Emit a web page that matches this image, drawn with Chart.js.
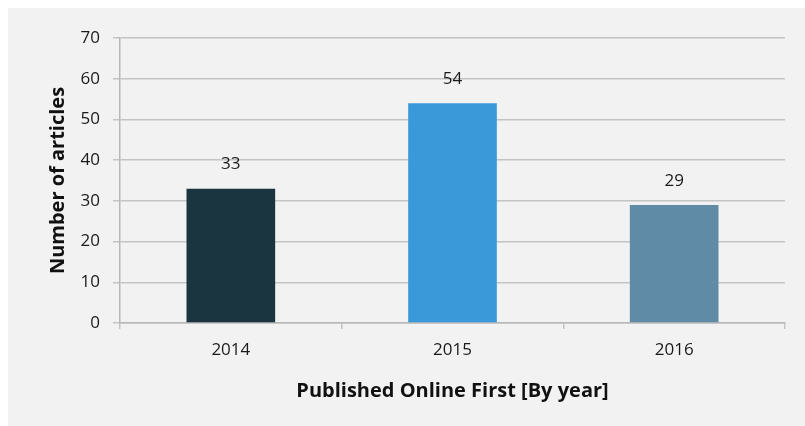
<!DOCTYPE html>
<html>
<head>
<meta charset="utf-8">
<script src="https://cdn.jsdelivr.net/npm/chart.js@4/dist/chart.umd.min.js"></script>
<style>
  html, body { margin: 0; padding: 0; background: #ffffff; }
  #wrap { width: 805px; height: 426px; position: relative; }
</style>
</head>
<body>
<div id="wrap"><canvas id="articles"></canvas></div>
<script>
// articles published online first, per year
const years = ['2014', '2015', '2016'];
const articleCounts = [33, 54, 29];
const barColors = ['#1b3540', '#3a9ad9', '#608ba7'];
const yTicks = [0, 10, 20, 30, 40, 50, 60, 70];

const FONT = '"Open Sans", "DejaVu Sans", sans-serif';

// light grey panel behind the chart, leaving a thin white strip top and left
const panelBackground = {
    id: 'panelBackground',
    beforeDraw(chart) {
        const ctx = chart.ctx;
        ctx.save();
        ctx.fillStyle = '#ffffff';
        ctx.fillRect(0, 0, chart.width, chart.height);
        ctx.fillStyle = '#f2f2f2';
        ctx.fillRect(8, 8, chart.width - 8, chart.height - 8);
        ctx.restore();
    }
};

// value written above each bar
const barValues = {
    id: 'barValues',
    afterDatasetsDraw(chart) {
        const ctx = chart.ctx;
        const meta = chart.getDatasetMeta(0);
        ctx.save();
        ctx.font = '17px ' + FONT;
        ctx.fillStyle = '#1a1a1a';
        ctx.textAlign = 'center';
        ctx.textBaseline = 'middle';
        meta.data.forEach((bar, i) => {
            ctx.fillText(String(articleCounts[i]), bar.x, bar.y - 24);
        });
        ctx.restore();
    }
};

new Chart(document.getElementById('articles'), {
    type: 'bar',
    data: {
        labels: years,
        datasets: [{
            data: articleCounts,
            backgroundColor: barColors,
            borderWidth: 0,
            barPercentage: 0.4,
            categoryPercentage: 1.0
        }]
    },
    plugins: [panelBackground, barValues],
    options: {
        responsive: true,
        maintainAspectRatio: false,
        animation: false,
        layout: { padding: { left: 46, top: 38, right: 20, bottom: 23 } },
        plugins: {
            legend: { display: false },
            tooltip: { enabled: false }
        },
        scales: {
            x: {
                offset: true,
                grid: {
                    offset: true,
                    drawOnChartArea: true,
                    // only the right-hand frame line shows inside the plot
                    color: (c) => c.index === years.length ? '#c4c4c4' : 'rgba(0,0,0,0)',
                    tickColor: '#c4c4c4',
                    tickLength: 6,
                    lineWidth: 1.5
                },
                border: { display: true, color: '#b8b8b8', width: 1.5 },
                ticks: {
                    color: '#1a1a1a',
                    font: { family: FONT, size: 17 },
                    padding: 11
                },
                title: {
                    display: true,
                    text: 'Published Online First [By year]',
                    color: '#111111',
                    font: { family: FONT, size: 20, weight: 'bold' },
                    padding: 0
                },
                afterFit(scale) { scale.height = 80; }
            },
            y: {
                min: 0,
                max: 70,
                afterBuildTicks(scale) {
                    scale.ticks = yTicks.map(v => ({ value: v }));
                },
                grid: {
                    color: '#c4c4c4',
                    tickColor: '#c4c4c4',
                    tickLength: 7,
                    lineWidth: 1.5
                },
                border: { display: true, color: '#b8b8b8', width: 1.5 },
                ticks: {
                    color: '#1a1a1a',
                    font: { family: FONT, size: 17 },
                    padding: 13
                },
                title: {
                    display: true,
                    text: 'Number of articles',
                    color: '#111111',
                    font: { family: FONT, size: 20, weight: 'bold' },
                    padding: 0
                },
                afterFit(scale) { scale.width = 74; }
            }
        }
    }
});
</script>
</body>
</html>
